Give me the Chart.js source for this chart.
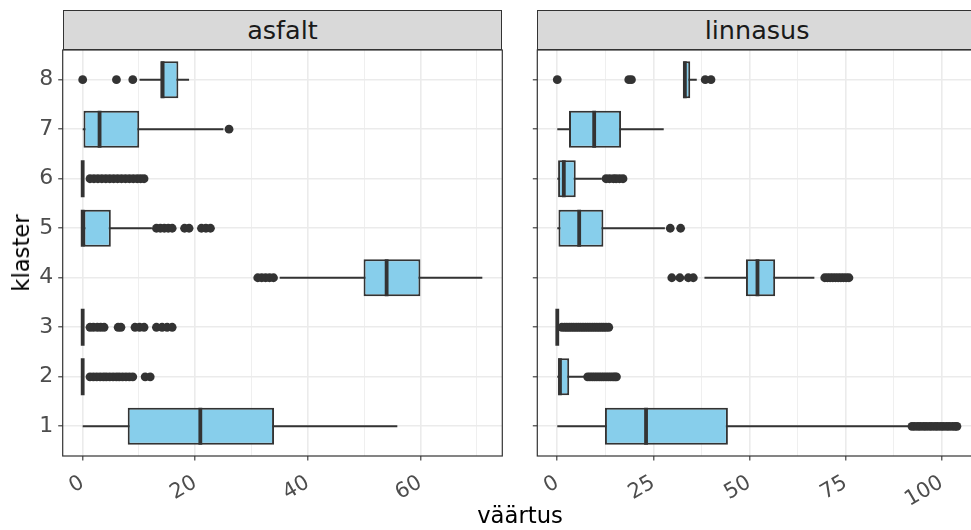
<!DOCTYPE html>
<html>
<head>
<meta charset="utf-8">
<script src="https://cdn.jsdelivr.net/npm/chart.js@4/dist/chart.umd.min.js"></script>
<style>
  html, body { margin: 0; padding: 0; background: #ffffff; }
  body { width: 971px; height: 530px; overflow: hidden; position: relative; font-family: "DejaVu Sans", sans-serif; }
  canvas { position: absolute; top: 0; }
  .strip { position: absolute; top: 10px; height: 40px; box-sizing: border-box; background: #D9D9D9;
           border: 1.1px solid #333333; color: #1A1A1A; font-size: 25.5px; display: flex;
           align-items: center; justify-content: center; }
  .ytitle { position: absolute; left: 21px; top: 253px; transform: translate(-50%, -50%) rotate(-90deg);
            font-size: 22.7px; color: #000; white-space: nowrap; }
  .xtitle { position: absolute; left: 520px; top: 515px; transform: translate(-50%, -50%);
            font-size: 22.7px; color: #000; white-space: nowrap; }
</style>
</head>
<body>
<canvas id="asfalt" width="512" height="530" style="left:0px"></canvas>
<canvas id="linnasus" width="470" height="530" style="left:528px"></canvas>
<div class="strip" style="left:62.7px; width:439.6px;">asfalt</div>
<div class="strip" style="left:537.3px; width:439.6px;">linnasus</div>
<div class="ytitle">klaster</div>
<div class="xtitle">väärtus</div>
<script>
// Clusters (y categories)
const klastrid = [1, 2, 3, 4, 5, 6, 7, 8];

// asfalt: box statistics per cluster 1..8
const asfaltAlumine = [0, 0, 0, 35.0, 0, 0, 0, 10.1];       // lower whisker end
const asfaltQ1      = [8.0, 0, 0, 49.9, 0, 0, 0, 13.8];
const asfaltMediaan = [20.9, 0, 0, 54.0, 0, 0, 3.0, 14.2];
const asfaltQ3      = [34.0, 0, 0, 60.0, 5.0, 0, 10.05, 17.0];
const asfaltYlemine = [55.9, 0, 0, 71.0, 12.3, 0, 25.0, 18.9]; // upper whisker end
const asfaltErind = [
  [],
  [1.3, 1.9, 2.5, 3.1, 3.7, 4.2, 4.8, 5.4, 6.0, 6.5, 7.1, 7.7, 8.3, 8.9, 11.1, 12.0],
  [1.3, 1.9, 2.6, 3.2, 3.8, 6.3, 6.8, 9.3, 10.1, 10.9, 13.1, 14.1, 15.0, 15.9],
  [31.1, 31.8, 32.5, 33.2, 33.9],
  [13.1, 13.8, 14.5, 15.2, 15.9, 18.1, 18.9, 21.1, 21.9, 22.7],
  [1.3, 2.0, 2.7, 3.4, 4.1, 4.8, 5.5, 6.2, 6.9, 7.6, 8.3, 9.0, 9.7, 10.3, 10.9],
  [26.0],
  [0, 6.0, 8.9]
];
const asfaltTikid = [0, 20, 40, 60];

// linnasus: box statistics per cluster 1..8
const linnasusAlumine = [0, 0, 0, 38.3, 0, 0, 0, 32.8];
const linnasusQ1      = [12.4, 0, 0, 49.1, 0.3, 0, 3.05, 32.8];
const linnasusMediaan = [23.1, 0.7, 0, 52.1, 5.7, 1.7, 9.6, 33.2];
const linnasusQ3      = [44.4, 3.1, 0, 56.7, 12.0, 4.8, 16.6, 34.6];
const linnasusYlemine = [91.4, 7.2, 0, 66.9, 28.0, 11.6, 27.7, 36.3];
const linnasusErind = [
  [92.3, 93.0, 93.8, 94.5, 95.3, 96.0, 96.8, 97.5, 98.3, 99.0, 99.8, 100.5, 101.3, 102.0, 102.8, 103.5, 104.0],
  [7.9, 8.5, 9.1, 9.7, 10.3, 10.9, 11.5, 12.1, 12.7, 13.3, 13.9, 14.5, 15.0, 15.4],
  [1.2, 1.9, 2.5, 3.1, 3.7, 4.3, 4.9, 5.5, 6.1, 6.7, 7.3, 7.9, 8.5, 9.1, 9.7, 10.3, 10.9, 11.5, 12.1, 12.7, 13.4],
  [29.8, 31.9, 34.1, 35.4, 69.6, 70.3, 71.0, 71.7, 72.4, 73.1, 73.8, 74.5, 75.2, 75.9],
  [29.4, 32.1],
  [12.7, 13.6, 14.6, 15.3, 16.2, 17.1],
  [],
  [0, 18.6, 19.3, 38.5, 40.0]
];
const linnasusTikid = [0, 25, 50, 75, 100];

// styling
const FONT = 'DejaVu Sans';
const INK = '#333333';
const FILL = '#87CEEB';
const GRID = '#EBEBEB';
const BOX_FRAC = 0.75;

Chart.defaults.font.family = FONT;

// panel border drawn over everything, like a bordered facet panel
const panelBorder = {
  id: 'panelBorder',
  afterDatasetsDraw(chart) {
    const a = chart.chartArea, ctx = chart.ctx;
    ctx.save();
    ctx.strokeStyle = INK;
    ctx.lineWidth = 1.2;
    ctx.strokeRect(a.left, a.top, a.right - a.left, a.bottom - a.top);
    ctx.restore();
  }
};

function boxChart(canvasId, stats, cfg) {
  const { lo, q1, med, q3, hi, out, marks } = stats;
  const allValues = [].concat(lo, q1, med, q3, hi, ...out);
  const dMin = Math.min(...allValues), dMax = Math.max(...allValues);
  const pad = 0.05 * (dMax - dMin);
  const xMin = dMin - pad, xMax = dMax + pad;
  const step = marks[1] - marks[0];
  const minor = marks.map(v => v + step / 2).filter(v => v > xMin && v < xMax);
  const allTicks = marks.concat(minor).sort((a, b) => a - b);
  const isMajor = v => marks.includes(v);

  const datasets = [];
  // whiskers
  klastrid.forEach((k, i) => {
    datasets.push({
      type: 'line', order: 3,
      data: [{ x: lo[i], y: k }, { x: hi[i], y: k }],
      borderColor: INK, borderWidth: 2, pointRadius: 0, borderCapStyle: 'butt'
    });
  });
  // boxes
  datasets.push({
    type: 'bar', order: 2,
    data: klastrid.map((k, i) => ({ y: k, x: [q1[i], q3[i]] })),
    backgroundColor: FILL, borderColor: INK, borderWidth: 2, borderSkipped: false,
    barPercentage: BOX_FRAC, categoryPercentage: 1
  });
  // medians
  klastrid.forEach((k, i) => {
    datasets.push({
      type: 'line', order: 1,
      data: [{ x: med[i], y: k - BOX_FRAC / 2 }, { x: med[i], y: k + BOX_FRAC / 2 }],
      borderColor: INK, borderWidth: 3.8, pointRadius: 0, borderCapStyle: 'butt'
    });
  });
  // outliers
  datasets.push({
    type: 'line', order: 0, showLine: false,
    data: klastrid.flatMap((k, i) => out[i].map(v => ({ x: v, y: k }))),
    pointRadius: 4.4, pointBorderWidth: 0, pointBackgroundColor: INK, pointHoverRadius: 4.4
  });

  return new Chart(document.getElementById(canvasId), {
    type: 'bar',
    data: { datasets },
    plugins: [panelBorder],
    options: {
      responsive: false,
      animation: false,
      devicePixelRatio: 1,
      indexAxis: 'y',
      events: [],
      layout: { padding: { top: 50, left: 0, bottom: 0, right: cfg.padRight } },
      plugins: { legend: { display: false }, tooltip: { enabled: false } },
      scales: {
        x: {
          type: 'linear', min: xMin, max: xMax, offset: false,
          afterBuildTicks: ax => { ax.ticks = allTicks.map(v => ({ value: v })); },
          afterFit: ax => { ax.height = 74; ax.paddingLeft = 0; ax.paddingRight = 0; },
          border: { display: false },
          grid: {
            offset: false,
            color: GRID,
            lineWidth: c => (c.tick && isMajor(c.tick.value)) ? 1.6 : 0.8,
            drawTicks: true, tickLength: 4.5,
            tickColor: c => (c.tick && isMajor(c.tick.value)) ? INK : 'rgba(0,0,0,0)',
            tickWidth: 1.1
          },
          ticks: {
            autoSkip: false, minRotation: 30, maxRotation: 30, padding: 10,
            color: '#4D4D4D', font: { size: 21 },
            callback: v => isMajor(v) ? String(v) : ''
          }
        },
        y: {
          type: 'linear', min: 0.4, max: 8.6, offset: false,
          afterBuildTicks: ax => { ax.ticks = klastrid.map(v => ({ value: v })); },
          afterFit: ax => { ax.width = cfg.yWidth; ax.paddingTop = 0; ax.paddingBottom = 0; },
          border: { display: false },
          grid: { offset: false, color: GRID, lineWidth: 1.6, drawTicks: true, tickLength: 4.5, tickColor: INK, tickWidth: 1.1 },
          ticks: {
            display: cfg.yLabels, padding: 5, color: '#4D4D4D', font: { size: 22 },
            callback: v => String(v)
          }
        }
      }
    }
  });
}

boxChart('asfalt', {
  lo: asfaltAlumine, q1: asfaltQ1, med: asfaltMediaan, q3: asfaltQ3, hi: asfaltYlemine,
  out: asfaltErind, marks: asfaltTikid
}, { yWidth: 62.7, padRight: 9.7, yLabels: true });

boxChart('linnasus', {
  lo: linnasusAlumine, q1: linnasusQ1, med: linnasusMediaan, q3: linnasusQ3, hi: linnasusYlemine,
  out: linnasusErind, marks: linnasusTikid
}, { yWidth: 9.3, padRight: 21.1, yLabels: false });
</script>
</body>
</html>
